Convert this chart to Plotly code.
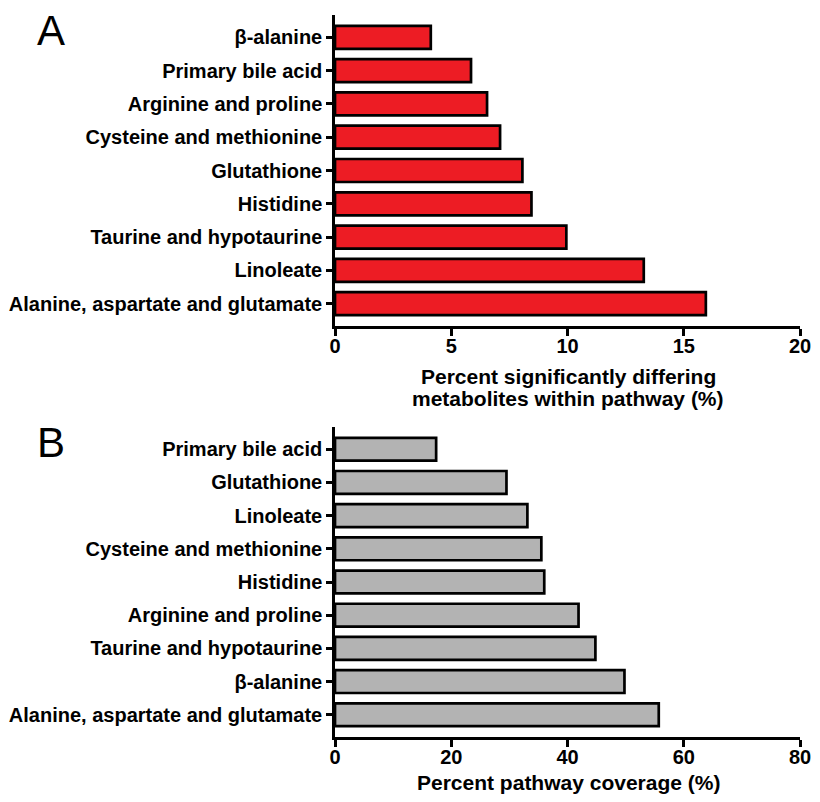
import plotly.graph_objects as go

# Panel A data (top to bottom)
pathways_a = ["β-alanine", "Primary bile acid", "Arginine and proline", "Cysteine and methionine",
              "Glutathione", "Histidine", "Taurine and hypotaurine", "Linoleate",
              "Alanine, aspartate and glutamate"]
pct_differing = [4.12, 5.85, 6.54, 7.1, 8.06, 8.45, 9.95, 13.28, 15.95]
ticks_a = [0, 5, 10, 15, 20]
title_a = ["Percent significantly differing", "metabolites within pathway (%)"]

# Panel B data (top to bottom)
pathways_b = ["Primary bile acid", "Glutathione", "Linoleate", "Cysteine and methionine",
              "Histidine", "Arginine and proline", "Taurine and hypotaurine", "β-alanine",
              "Alanine, aspartate and glutamate"]
pct_coverage = [17.4, 29.5, 33.1, 35.5, 36.0, 41.9, 44.8, 49.8, 55.7]
ticks_b = [0, 20, 40, 60, 80]
title_b = "Percent pathway coverage (%)"

FONT = "Arial, Liberation Sans, sans-serif"
OFF = 8                      # default page body margin
W, H = 820 - 2 * OFF, 802 - 2 * OFF

def px(x):
    return (x - OFF) / W

def py(y):
    return 1 - (y - OFF) / H

fig = go.Figure()
fig.add_trace(go.Bar(x=pct_differing, y=pathways_a, orientation="h",
                     marker=dict(color="#ED1C24", line=dict(color="black", width=2.7)),
                     width=0.69, xaxis="x", yaxis="y", showlegend=False))
fig.add_trace(go.Bar(x=pct_coverage, y=pathways_b, orientation="h",
                     marker=dict(color="#B3B3B3", line=dict(color="black", width=2.7)),
                     width=0.69, xaxis="x2", yaxis="y2", showlegend=False))

tickfont = dict(family=FONT, size=20, color="black", weight="bold")
common_x = dict(showline=True, linecolor="black", linewidth=2.5, ticks="outside", ticklen=7,
                tickwidth=2.5, tickcolor="black", showgrid=False, zeroline=False,
                tickfont=tickfont, domain=[px(335), px(800)], automargin=False,
                ticklabeloverflow="allow", ticklabelstandoff=-7)
common_y = dict(showline=True, linecolor="black", linewidth=2.5, ticks="outside", ticklen=6,
                tickwidth=2.5, tickcolor="black", showgrid=False, zeroline=False,
                tickfont=tickfont, type="category", range=[8.67, -0.67], automargin=False)

def ann(text, xpx, ypx, size, bold=True, xanchor="center"):
    return dict(text=text, x=px(xpx), y=py(ypx), xref="paper", yref="paper",
                xanchor=xanchor, yanchor="middle", showarrow=False,
                font=dict(family=FONT, size=size, color="black",
                          weight="bold" if bold else "normal"))

fig.update_layout(
    width=W, height=H,
    margin=dict(l=0, r=0, t=0, b=0),
    paper_bgcolor="white", plot_bgcolor="white",
    xaxis=dict(common_x, range=[0, 20], tickvals=ticks_a, anchor="y"),
    yaxis=dict(common_y, domain=[py(326), py(15)], anchor="x",
               categoryorder="array", categoryarray=pathways_a),
    xaxis2=dict(common_x, range=[0, 80], tickvals=ticks_b, anchor="y2"),
    yaxis2=dict(common_y, domain=[py(737), py(427)], anchor="x2",
                categoryorder="array", categoryarray=pathways_b),
    annotations=[
        ann(title_a[0], 568, 377, 21),
        ann(title_a[1], 568, 398, 21),
        ann(title_b, 568, 782, 21),
        ann("A", 35, 31, 42, bold=False, xanchor="left"),
        ann("B", 35, 442, 42, bold=False, xanchor="left"),
    ],
)

fig.write_html("out.html")
